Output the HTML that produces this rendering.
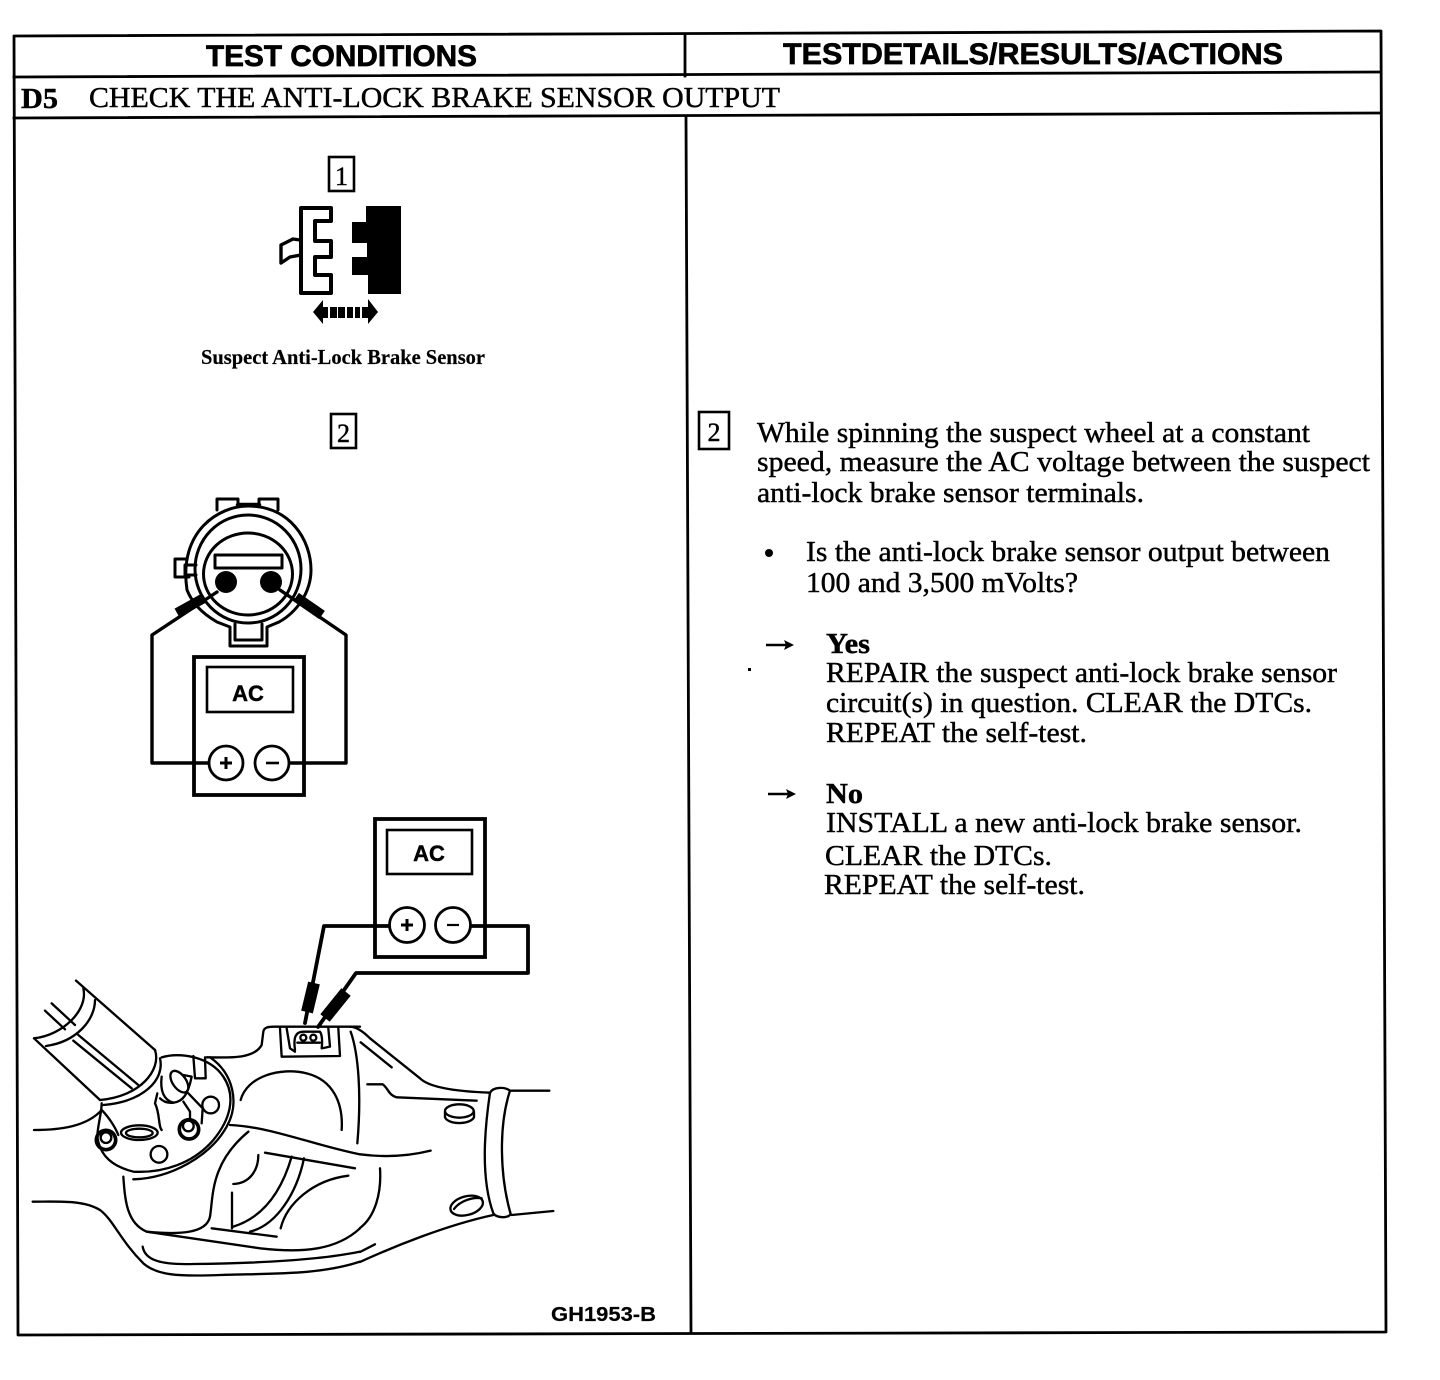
<!DOCTYPE html>
<html>
<head>
<meta charset="utf-8">
<style>
html,body{margin:0;padding:0;background:#fff;}
svg{display:block;}
text{stroke:#000;stroke-width:.45px;}
.s{font-family:"Liberation Serif",serif;font-size:29px;fill:#000;}
.h{font-family:"Liberation Sans",sans-serif;font-weight:bold;font-size:30px;fill:#000;stroke-width:.7px;}
.n{font-family:"Liberation Serif",serif;font-size:26px;fill:#000;}
.l{fill:none;stroke:#000;stroke-linecap:round;stroke-linejoin:round;}
</style>
</head>
<body>
<svg width="1440" height="1380" viewBox="0 0 1440 1380" xmlns="http://www.w3.org/2000/svg">
<rect width="1440" height="1380" fill="#fff"/>

<!-- table -->
<g class="l" stroke-width="2.8" style="stroke-linecap:square">
<path d="M14,36 L1381,31 L1386,1332 L18,1335 Z"/>
<path d="M14,77 L1381,72"/>
<path d="M14,118 L1381,113"/>
<path d="M685,36 L685,76"/>
<path d="M686,117 L691,1333"/>
</g>

<!-- headers -->
<text class="h" x="206" y="66" textLength="271" lengthAdjust="spacingAndGlyphs">TEST CONDITIONS</text>
<text class="h" x="783" y="64" textLength="500" lengthAdjust="spacingAndGlyphs">TESTDETAILS/RESULTS/ACTIONS</text>
<text class="s" x="21" y="108" textLength="37" lengthAdjust="spacingAndGlyphs" font-weight="bold">D5</text>
<text class="s" x="89" y="107" textLength="691" lengthAdjust="spacingAndGlyphs">CHECK THE ANTI-LOCK BRAKE SENSOR OUTPUT</text>

<!-- number boxes -->
<rect x="329" y="157" width="25" height="34" fill="none" stroke="#000" stroke-width="2.6"/>
<text class="n" x="341.500" y="185" text-anchor="middle" font-size="24">1</text>
<rect x="331" y="414" width="25" height="34" fill="none" stroke="#000" stroke-width="2.6"/>
<text class="n" x="343.500" y="442" text-anchor="middle">2</text>
<rect x="699" y="412" width="30" height="37" fill="none" stroke="#000" stroke-width="2.6"/>
<text class="n" x="714" y="441" text-anchor="middle">2</text>

<!-- connector -->
<path class="l" stroke-width="4" d="M301,208 L331,208 L331,221 L315,221 L315,241 L331,241 L331,257 L315,257 L315,275 L331,275 L331,293 L301,293 Z"/>
<path class="l" stroke-width="3.4" d="M300,240 L293,239 L281,245 L281,263 L290,257 L301,255"/>
<polygon fill="#000" points="366,206 401,206 401,294 368,294 368,275 352,275 352,257 367,257 367,243 352,243 352,222 366,222"/>
<polygon fill="#000" points="313,312 323,300 323,324"/>
<polygon fill="#000" points="378,312 368,299 368,324"/>
<g fill="#000">
<rect x="323" y="307" width="5" height="11"/>
<rect x="330" y="307" width="7" height="11"/>
<rect x="338" y="307" width="7" height="11"/>
<rect x="347" y="307" width="6" height="11"/>
<rect x="355" y="307" width="5" height="11"/>
<rect x="362" y="307" width="6" height="11"/>
</g>
<text x="201" y="364" textLength="284" lengthAdjust="spacingAndGlyphs" font-family="'Liberation Serif',serif" font-weight="bold" font-size="21" style="stroke-width:.2px">Suspect Anti-Lock Brake Sensor</text>

<!-- round connector -->
<g class="l" stroke-width="3">
<path d="M217,510 L217,499 L238,499 L238,505"/>
<path d="M259,505 L259,499 L278,499 L278,510"/>
<path d="M238,505 L259,505" stroke-width="4.500"/>
<path d="M186,559 L175,559 L175,577 L189,577"/>
<path d="M196,565 L185,565 L185,575 L196,575"/>
<path d="M187,590 C178,530 220,506 248,506 C290,506 311,540 311,570 C311,592 297,612 279,622 L267,627 L267,646 L230,646 L230,627 L217,622 C200,612 192,602 187,590 Z"/>
<ellipse cx="248" cy="569" rx="53" ry="54"/>
<ellipse cx="248" cy="574" rx="44.500" ry="41"/>
<path d="M235,624 L235,640 L262,640 L262,624"/>
<rect x="215" y="555" width="67" height="13"/>
</g>
<circle cx="226" cy="582" r="11" fill="#000"/>
<circle cx="271" cy="582" r="11" fill="#000"/>
<g class="l" stroke-width="3.400">
<path d="M217,592 L152,635 L152,763 L209,763"/>
<path d="M280,590 L346,635 L346,763 L289,763"/>
</g>
<path d="M177,613 L204,598" fill="none" stroke="#000" stroke-width="10"/>
<path d="M296,597 L322,615" fill="none" stroke="#000" stroke-width="10"/>
<rect x="194" y="657" width="110" height="138" fill="none" stroke="#000" stroke-width="3.800"/>
<rect x="207" y="667" width="86" height="45" fill="none" stroke="#000" stroke-width="2.600"/>
<text x="248" y="701" text-anchor="middle" font-family="'Liberation Sans',sans-serif" font-weight="bold" font-size="22">AC</text>
<circle cx="226" cy="763" r="17" fill="#fff" stroke="#000" stroke-width="2.800"/>
<circle cx="272" cy="763" r="17" fill="#fff" stroke="#000" stroke-width="2.800"/>
<path d="M220,763 H232 M226,757 V769" stroke="#000" stroke-width="3"/>
<path d="M266,763 H279" stroke="#000" stroke-width="2.600"/>

<!-- second meter -->
<rect x="375" y="819" width="110" height="138" fill="none" stroke="#000" stroke-width="3.800"/>
<rect x="387" y="830" width="85" height="44" fill="none" stroke="#000" stroke-width="2.600"/>
<text x="429" y="861" text-anchor="middle" font-family="'Liberation Sans',sans-serif" font-weight="bold" font-size="22">AC</text>
<g class="l" stroke-width="3.800">
<path d="M389,926 L324,926 L305,1023"/>
<path d="M471,926 L528,926 L528,973 L356,973 L318,1027"/>
</g>
<circle cx="407" cy="925" r="17.500" fill="#fff" stroke="#000" stroke-width="2.800"/>
<circle cx="453" cy="925" r="17.500" fill="#fff" stroke="#000" stroke-width="2.800"/>
<path d="M401,925 H413 M407,919 V931" stroke="#000" stroke-width="3"/>
<path d="M447,925 H459" stroke="#000" stroke-width="2.200"/>
<path d="M314,983 L307,1012" fill="none" stroke="#000" stroke-width="12"/>
<path d="M346,992 L325,1018" fill="none" stroke="#000" stroke-width="12"/>

<!-- axle housing, left part -->
<g transform="translate(20 970) scale(.33333)">
<g class="l" stroke-width="7">
<path d="M168,32 L405,240"/>
<path d="M190,55 C205,120 130,195 42,205"/>
<path d="M225,90 C225,150 170,215 78,228"/>
<path d="M42,205 L240,390"/>
<path d="M95,100 L165,165 M75,122 L135,178"/>
<path d="M175,195 L355,345 M160,212 L335,355"/>
<path d="M405,240 C425,300 360,380 240,390"/>
<path d="M420,265 C435,330 370,395 250,405"/>
<path d="M425,262 C480,245 570,260 610,320 C650,380 630,450 580,510 C520,580 430,610 340,605 C280,590 240,560 232,500 C232,470 245,430 245,400"/>
<path d="M570,262 C640,310 660,400 620,470 C570,560 450,625 340,628"/>
<path d="M245,420 C265,440 285,470 295,495"/>
<path d="M520,258 L525,325 L557,325 L555,262"/>
<circle cx="258" cy="510" r="29" stroke-width="11"/>
<circle cx="258" cy="503" r="16"/>
<circle cx="507" cy="478" r="29" stroke-width="11"/>
<circle cx="505" cy="468" r="16"/>
<circle cx="572" cy="405" r="25"/>
<circle cx="417" cy="553" r="25"/>
<ellipse cx="358" cy="488" rx="55" ry="22"/>
<ellipse cx="358" cy="489" rx="40" ry="13"/>
<ellipse cx="478" cy="335" rx="20" ry="37" transform="rotate(-35 478 335)"/>
<path d="M425,320 C420,360 430,390 460,398 C490,395 505,370 515,320 L490,315"/>
<path d="M490,395 L510,425 L510,450 M505,370 L548,415 L545,460"/>
<path d="M412,370 L405,400 C420,430 415,470 425,480"/>
<path d="M420,385 C430,395 445,400 460,398"/>
<path d="M42,480 C120,480 200,470 245,420"/>
<path d="M38,695 C120,695 190,690 240,720 C280,750 300,810 370,880 C410,915 470,920 600,915 C760,910 900,915 1020,875"/>
<path d="M368,830 C375,870 420,885 520,882 C700,880 900,870 1020,845"/>
<path d="M310,620 C315,690 320,760 380,785 L720,835 C850,850 950,840 1020,775"/>
<path d="M380,785 C480,795 560,790 570,740 C580,680 570,580 685,485"/>
<path d="M630,465 C750,470 880,525 1020,553"/>
<path d="M735,548 L1005,595"/>
<path d="M715,555 C715,600 690,640 640,642"/>
<path d="M636,668 L636,775 M575,775 L770,800"/>
<path d="M640,770 C720,745 780,680 815,560"/>
<path d="M690,785 C770,765 830,670 852,565"/>
<path d="M782,775 C800,700 880,630 985,617"/>
<path d="M662,390 C680,320 780,290 860,310 C940,330 970,400 965,480"/>
<path d="M560,262 C620,262 700,270 725,225 L730,185 C732,172 745,170 760,170 L1020,170"/>
<path d="M780,175 L785,260 L960,258 L955,175"/>
<path d="M800,175 L810,235 L825,245"/>
<path d="M825,240 C820,205 825,185 850,185 L900,185 C910,200 905,235 905,235 L930,230 L925,175"/>
<circle cx="850" cy="203" r="9"/>
<circle cx="880" cy="203" r="9"/>
<path d="M832,218 L900,218"/>
</g>
</g>

<!-- axle housing, right part -->
<g transform="translate(260 810) scale(.33333)">
<g class="l" stroke-width="7">
<path d="M270,650 C290,650 310,665 330,685 L480,805 C510,835 600,845 690,848"/>
<path d="M750,842 L868,842"/>
<path d="M302,697 L395,772"/>
<path d="M272,665 C295,730 305,850 292,1000"/>
<path d="M322,823 L368,823 C385,835 385,855 410,862 L650,872"/>
<ellipse cx="598" cy="903" rx="43" ry="20"/>
<path d="M555,905 L555,922 C565,945 630,945 642,922 L642,905"/>
<path d="M690,848 C675,950 660,1100 700,1210 C710,1225 745,1225 752,1212 C720,1100 715,950 750,842 C735,830 700,830 690,848 Z"/>
<path d="M755,1215 L880,1203"/>
<path d="M300,1033 C370,1042 440,1040 512,1022"/>
<path d="M360,1075 C365,1150 345,1220 300,1254"/>
<path d="M300,1326 L345,1303"/>
<path d="M300,1356 C400,1310 560,1245 700,1215"/>
<ellipse cx="620" cy="1187" rx="50" ry="28" transform="rotate(-15 620 1187)"/>
<path d="M582,1197 C600,1172 640,1160 665,1165"/>
</g>
</g>

<rect x="748" y="668" width="3" height="3" fill="#000"/>
<text x="551" y="1321" textLength="105" lengthAdjust="spacingAndGlyphs" font-family="'Liberation Sans',sans-serif" font-weight="bold" font-size="20" style="stroke-width:.2px">GH1953-B</text>

<!-- body text -->
<text class="s" x="757" y="442" textLength="553" lengthAdjust="spacingAndGlyphs">While spinning the suspect wheel at a constant</text>
<text class="s" x="757" y="471" textLength="613" lengthAdjust="spacingAndGlyphs">speed, measure the AC voltage between the suspect</text>
<text class="s" x="757" y="502" textLength="387" lengthAdjust="spacingAndGlyphs">anti-lock brake sensor terminals.</text>
<circle cx="769" cy="553" r="4" fill="#000"/>
<text class="s" x="806" y="561" textLength="524" lengthAdjust="spacingAndGlyphs">Is the anti-lock brake sensor output between</text>
<text class="s" x="806" y="592" textLength="272" lengthAdjust="spacingAndGlyphs">100 and 3,500 mVolts?</text>
<path d="M766,645 H786" stroke="#000" stroke-width="2.400"/>
<polygon points="794,645 784,640 786,645 784,650" fill="#000"/>
<text class="s" x="826" y="653" textLength="44" lengthAdjust="spacingAndGlyphs" font-weight="bold">Yes</text>
<text class="s" x="826" y="682" textLength="511" lengthAdjust="spacingAndGlyphs">REPAIR the suspect anti-lock brake sensor</text>
<text class="s" x="826" y="712" textLength="486" lengthAdjust="spacingAndGlyphs">circuit(s) in question. CLEAR the DTCs.</text>
<text class="s" x="826" y="742" textLength="261" lengthAdjust="spacingAndGlyphs">REPEAT the self-test.</text>
<path d="M768,794 H788" stroke="#000" stroke-width="2.400"/>
<polygon points="796,794 786,789 788,794 786,799" fill="#000"/>
<text class="s" x="826" y="803" textLength="37" lengthAdjust="spacingAndGlyphs" font-weight="bold">No</text>
<text class="s" x="826" y="832" textLength="476" lengthAdjust="spacingAndGlyphs">INSTALL a new anti-lock brake sensor.</text>
<text class="s" x="825" y="865" textLength="227" lengthAdjust="spacingAndGlyphs">CLEAR the DTCs.</text>
<text class="s" x="824" y="894" textLength="261" lengthAdjust="spacingAndGlyphs">REPEAT the self-test.</text>
</svg>
</body>
</html>
